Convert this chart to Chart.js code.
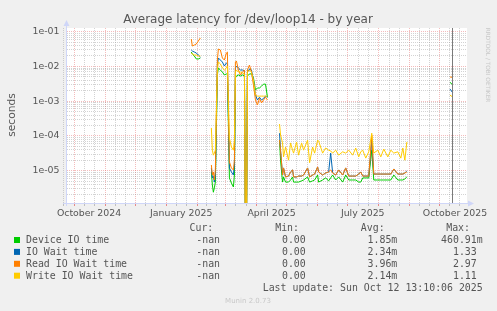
<!DOCTYPE html>
<html>
<head>
<meta charset="utf-8">
<script src="https://cdn.jsdelivr.net/npm/chart.js@4.4.0/dist/chart.umd.min.js"></script>
<style>
html, body { margin: 0; padding: 0; background: #f0f0f0; }
canvas { display: block; }
</style>
</head>
<body>
<canvas id="latency_graph" width="497" height="311"></canvas>
<script>
// x = days since 1 October 2024, null rows break the lines
var days = [
	117, 118, 120, 122, 124, 126,
	130,
	137, 138, 139, 140, 141,
	143, 144, 146, 148, 150, 152, 153,
	155, 157, 159, 160,
	161, 162, 164, 166, 168, 170,
	171, 172,
	173, 175, 177,
	179, 181, 183, 185, 187, 189, 191, 193,
	198,
	205, 206, 208, 209, 211,
	214, 216, 218, 219, 222, 224, 227, 229, 233, 235, 238, 240,
	243, 244, 248, 251, 254, 256, 258, 261, 264, 268, 271, 274,
	278, 281, 284, 286, 288, 291, 294, 297, 299, 303, 306, 309,
	313, 316, 319, 323, 326, 328, 330, 332,
	340,
	375, 378
];

var deviceTime = [
	0.026, 0.0228, 0.020, 0.0164, 0.0164, 0.0175,
	null,
	9.2e-6, 3.9e-6, 2.4e-6, 3.2e-6, 4.7e-6,
	0.0057, 0.009, 0.0079, 0.0069, 0.0057, 0.0061, 0.0061,
	6.2e-6, 4.4e-6, 3.4e-6, 7.5e-6,
	0.0047, 0.0053, 0.0057, 0.0053, 0.0057, 0.0053,
	1e-7, 1e-7,
	0.0053, 0.0061, 0.0061,
	0.0047, 0.0021, 0.0024, 0.0024, 0.0027, 0.0031, 0.0031, 0.0013,
	null,
	7.6e-5, 2.0e-5, 4.7e-6, 6.6e-6, 4.7e-6,
	4.7e-6, 5.4e-6, 6.6e-6, 4.7e-6, 4.7e-6, 4.7e-6, 5.1e-6, 5.4e-6, 6.6e-6, 4.7e-6, 5.1e-6, 5.4e-6,
	7.5e-6, 4.7e-6, 5.4e-6, 6.2e-6, 5.1e-6, 6.2e-6, 7.5e-6, 5.4e-6, 6.6e-6, 4.7e-6, 7.5e-6, 5.4e-6,
	5.4e-6, 5.4e-6, 4.7e-6, 4.7e-6, 6.2e-6, 6.2e-6, 6.2e-6, 3.9e-5, 5.4e-6, 5.4e-6, 5.4e-6, 5.4e-6,
	5.4e-6, 5.4e-6, 7.5e-6, 5.4e-6, 5.4e-6, 5.4e-6, 5.8e-6, 6.6e-6,
	null,
	0.0035, 0.0029
];

var ioWait = [
	0.0297, 0.0278, 0.026, 0.0244, 0.0213, 0.0187,
	null,
	1.2e-5, 6.2e-6, 7.0e-6, 4.7e-6, 7.5e-6,
	0.011, 0.0175, 0.0153, 0.0134, 0.0103, 0.0126, 0.0118,
	1.2e-5, 9.2e-6, 7.5e-6, 1.46e-5,
	0.009, 0.0103, 0.009, 0.0079, 0.0079, 0.0074,
	1e-7, 1e-7,
	0.0069, 0.0084, 0.0079,
	0.0041, 0.0015, 0.00108, 0.0013, 0.00108, 0.0012, 0.0014, 0.0013,
	null,
	1.2e-4, 3.9e-5, 7.5e-6, 1.2e-5, 6.6e-6,
	7.0e-6, 9.2e-6, 1.05e-5, 6.6e-6, 6.6e-6, 7.0e-6, 7.0e-6, 7.5e-6, 1.2e-5, 6.6e-6, 7.5e-6, 8.0e-6,
	1.28e-5, 9.2e-6, 7.5e-6, 8.6e-6, 9.2e-6, 3.2e-5, 8.6e-6, 7.5e-6, 1.05e-5, 7.5e-6, 1.2e-5, 7.0e-6,
	7.0e-6, 7.0e-6, 8.0e-6, 9.2e-6, 7.0e-6, 7.0e-6, 7.0e-6, 7.6e-5, 8.0e-6, 8.0e-6, 8.0e-6, 8.0e-6,
	8.0e-6, 8.0e-6, 1.12e-5, 8.0e-6, 8.0e-6, 8.0e-6, 8.6e-6, 9.8e-6,
	null,
	0.00224, 0.00172
];

var readWait = [
	0.0616, 0.0387, 0.0414, 0.0442, 0.054, 0.066,
	null,
	1.46e-5, 7.5e-6, 9.2e-6, 5.4e-6, 1.05e-5,
	0.0153, 0.0318, 0.0297, 0.0175, 0.0153, 0.0244, 0.026,
	1.8e-5, 1.2e-5, 1.05e-5, 2.0e-5,
	0.0134, 0.0144, 0.0079, 0.0057, 0.0069, 0.0079,
	1e-7, 1e-7,
	0.0079, 0.011, 0.0069,
	0.0029, 0.00108, 0.00078, 0.0012, 0.00089, 0.00108, 0.0013, 0.00108,
	null,
	7.6e-5, 3.9e-5, 7.5e-6, 1.2e-5, 6.6e-6,
	7.0e-6, 9.2e-6, 1.05e-5, 6.6e-6, 6.6e-6, 7.0e-6, 7.0e-6, 7.5e-6, 1.2e-5, 6.6e-6, 7.5e-6, 8.0e-6,
	1.28e-5, 9.2e-6, 7.5e-6, 8.6e-6, 9.2e-6, 1.05e-5, 8.6e-6, 7.5e-6, 1.05e-5, 7.5e-6, 1.2e-5, 7.0e-6,
	7.0e-6, 7.0e-6, 8.0e-6, 9.2e-6, 7.0e-6, 7.0e-6, 7.0e-6, 1.06e-4, 8.0e-6, 8.0e-6, 8.0e-6, 8.0e-6,
	8.0e-6, 8.0e-6, 1.12e-5, 8.0e-6, 8.0e-6, 8.0e-6, 8.6e-6, 9.2e-6,
	null,
	0.005, 0.0048
];

var writeWait = [
	0.0244, 0.0228, 0.0213, 0.0213, 0.020, 0.020,
	null,
	1.7e-4, 3.9e-5, 2.8e-5, 3.2e-5, 3.9e-5,
	0.0079, 0.0134, 0.0118, 0.009, 0.0079, 0.009, 0.0103,
	8.7e-5, 4.8e-5, 3.9e-5, 7.6e-5,
	0.0069, 0.0079, 0.0069, 0.0069, 0.0065, 0.0061,
	1e-7, 1e-7,
	0.0069, 0.0079, 0.0069,
	0.0041, 0.0015, 0.0014, 0.0014, 0.0014, 0.0014, 0.0014, 0.0014,
	null,
	2.2e-4, 1.06e-4, 6.3e-5, 2.5e-5, 4.8e-5,
	2.0e-5, 6.3e-5, 3.9e-5, 3.2e-5, 6.7e-5, 2.8e-5, 6.3e-5, 3.9e-5, 7.6e-5, 1.7e-5, 4.8e-5, 3.2e-5,
	7.6e-5, 7.1e-5, 3.2e-5, 4.5e-5, 3.9e-5, 3.7e-5, 3.2e-5, 3.9e-5, 2.8e-5, 3.5e-5, 3.2e-5, 3.9e-5,
	2.8e-5, 4.5e-5, 2.5e-5, 3.5e-5, 3.9e-5, 2.3e-5, 3.5e-5, 1.2e-4, 3.2e-5, 3.9e-5, 2.5e-5, 4.2e-5,
	2.5e-5, 3.9e-5, 3.2e-5, 3.5e-5, 2.3e-5, 4.5e-5, 2.0e-5, 6.7e-5,
	null,
	0.0015, 0.0013
];

var seriesNames = ["Device IO time", "IO Wait time", "Read IO Wait time", "Write IO Wait time"];
var seriesColors = ["#00cc00", "#0066b3", "#ff8000", "#ffcc00"];
var curValues = ["-nan", "-nan", "-nan", "-nan"];
var minValues = ["0.00", "0.00", "0.00", "0.00"];
var avgValues = ["1.85m", "2.34m", "3.96m", "2.14m"];
var maxValues = ["460.91m", "1.33", "2.97", "1.11"];

var monthStarts = [0, 31, 61, 92, 123, 151, 182, 212, 243, 273, 304, 335, 365];
var labelDays = [15, 107, 197, 288, 380];
var labelTexts = ["October 2024", "January 2025", "April 2025", "July 2025", "October 2025"];
var yTickValues = [1e-5, 1e-4, 1e-3, 1e-2, 1e-1];
var yTickLabels = ["1e-05", "1e-04", "1e-03", "1e-02", "1e-01"];
var nowDay = 377;

var TEXT = "#555555";
var SANS = '"DejaVu Sans", sans-serif';
var MONO = '"DejaVu Sans Mono", monospace';
var MAJOR_GRID = "rgba(228,95,95,0.42)";
var MINOR_GRID = "rgba(140,140,140,0.38)";

function points(values) {
	return days.map(function (d, i) { return { x: d, y: values[i] }; });
}

var munin_decor = {
	id: "munin_decor",
	beforeDraw: function (chart) {
		var c = chart.ctx, a = chart.chartArea;
		c.save();
		c.fillStyle = "#f0f0f0";
		c.fillRect(0, 0, chart.width, chart.height);
		c.fillStyle = "#ffffff";
		c.fillRect(a.left, a.top, a.right - a.left, a.bottom - a.top);
		c.restore();
	},
	afterDatasetsDraw: function (chart) {
		var c = chart.ctx, a = chart.chartArea;
		var px = Math.round(chart.scales.x.getPixelForValue(nowDay)) + 0.5;
		c.save();
		c.strokeStyle = "#7a7a7a";
		c.lineWidth = 1;
		c.beginPath();
		c.moveTo(px, a.top);
		c.lineTo(px, a.bottom);
		c.stroke();
		c.restore();
	},
	afterDraw: function (chart) {
		var c = chart.ctx, a = chart.chartArea;
		c.save();
		// axes with arrows
		c.strokeStyle = "#cfd6f8";
		c.fillStyle = "#cfd6f8";
		c.lineWidth = 1;
		c.beginPath();
		c.moveTo(a.left - 0.5, a.bottom + 3);
		c.lineTo(a.left - 0.5, a.top - 3);
		c.moveTo(a.left - 4, a.bottom + 0.5);
		c.lineTo(a.right + 2, a.bottom + 0.5);
		c.stroke();
		c.beginPath();
		c.moveTo(a.left - 3.5, a.top - 2);
		c.lineTo(a.left + 2.5, a.top - 2);
		c.lineTo(a.left - 0.5, a.top - 8);
		c.closePath();
		c.fill();
		c.beginPath();
		c.moveTo(a.right + 1, a.bottom - 2.5);
		c.lineTo(a.right + 1, a.bottom + 3.5);
		c.lineTo(a.right + 7, a.bottom + 0.5);
		c.closePath();
		c.fill();

		// title
		c.fillStyle = TEXT;
		c.textBaseline = "alphabetic";
		c.textAlign = "center";
		c.font = "12px " + SANS;
		c.fillText("Average latency for /dev/loop14 - by year", 248, 23.3);

		// unit label
		c.save();
		c.translate(14.5, 115);
		c.rotate(-Math.PI / 2);
		c.font = "10.7px " + SANS;
		c.fillText("seconds", 0, 0);
		c.restore();

		// watermark
		c.save();
		c.translate(486.3, 65);
		c.rotate(Math.PI / 2);
		c.fillStyle = "#c8c8c8";
		c.font = "5.8px " + SANS;
		c.fillText("RRDTOOL / TOBI OETIKER", 0, 0);
		c.restore();

		// legend table
		var cw = 5.96;
		var colRight = [226, 311.7, 397.3, 482.7];
		var headers = ["Cur:", "Min:", "Avg:", "Max:"];
		c.font = "9.9px " + MONO;
		c.textAlign = "right";
		headers.forEach(function (h, k) {
			c.fillText(h, colRight[k] - 12.7, 231.4);
		});
		var rowBase = [243.4, 255.3, 267.2, 279.1];
		seriesNames.forEach(function (name, i) {
			var yb = rowBase[i];
			c.fillStyle = seriesColors[i];
			c.fillRect(14, yb - 6.4, 6, 6);
			c.fillStyle = TEXT;
			c.textAlign = "left";
			c.fillText(name, 26, yb);
			c.textAlign = "right";
			[curValues[i], minValues[i], avgValues[i], maxValues[i]].forEach(function (v, k) {
				var off = /m$/.test(v) ? 0 : cw;
				c.fillText(v, colRight[k] - off, yb);
			});
		});
		c.fillText("Last update: Sun Oct 12 13:10:06 2025", 482.7, 291);

		c.textAlign = "center";
		c.fillStyle = "#c8c8c8";
		c.font = "7px " + SANS;
		c.fillText("Munin 2.0.73", 248, 302.5);
		c.restore();
	}
};

var ctx = document.getElementById("latency_graph").getContext("2d");

var datasets = [deviceTime, ioWait, readWait, writeWait].map(function (values, i) {
	return {
		label: seriesNames[i],
		data: points(values),
		borderColor: seriesColors[i],
		backgroundColor: seriesColors[i],
		borderWidth: 1,
		pointRadius: 0,
		tension: 0,
		spanGaps: false,
		clip: 0,
		order: 4 - i
	};
});

var chart = new Chart(ctx, {
	type: "line",
	data: { datasets: datasets },
	options: {
		responsive: false,
		animation: false,
		events: [],
		layout: { padding: { left: 0, right: 30, top: 28, bottom: 0 } },
		scales: {
			x: {
				type: "linear",
				min: -7,
				max: 392,
				afterFit: function (s) { s.height = 108; },
				afterBuildTicks: function (s) {
					var t = [];
					monthStarts.forEach(function (m, k) {
						t.push({ value: m, kind: "month" });
						if (k < monthStarts.length - 1) {
							var len = monthStarts[k + 1] - m;
							t.push({ value: m + len / 3, kind: "minor" });
							t.push({ value: m + 2 * len / 3, kind: "minor" });
						}
					});
					t.push({ value: -30 + 20, kind: "minor" });
					t.push({ value: 365 + 10, kind: "minor" });
					t.push({ value: 365 + 20, kind: "minor" });
					labelDays.forEach(function (d) { t.push({ value: d, kind: "lbl" }); });
					s.ticks = t;
				},
				grid: {
					color: function (c) {
						if (!c.tick) return "rgba(0,0,0,0)";
						if (c.tick.kind === "month") return MAJOR_GRID;
						if (c.tick.kind === "minor") return MINOR_GRID;
						return "rgba(0,0,0,0)";
					},
					tickColor: function (c) {
						if (!c.tick) return "rgba(0,0,0,0)";
						if (c.tick.kind === "month") return "rgba(225,80,80,0.65)";
						if (c.tick.kind === "minor") return "rgba(150,150,150,0.55)";
						return "rgba(0,0,0,0)";
					},
					lineWidth: 1,
					drawTicks: true,
					tickLength: 3
				},
				border: { display: false, dash: [1, 1] },
				ticks: {
					autoSkip: false,
					maxRotation: 0,
					padding: 2,
					color: TEXT,
					font: { family: SANS, size: 9.4 },
					callback: function (v, i, ticks) {
						if (ticks[i].kind !== "lbl") return "";
						return labelTexts[labelDays.indexOf(v)];
					}
				}
			},
			y: {
				type: "logarithmic",
				min: 1.175e-6,
				max: 0.1278,
				afterFit: function (s) { s.width = 67; },
				afterBuildTicks: function (s) {
					var t = [];
					for (var n = -6; n <= -1; n++) {
						for (var m = 1; m <= 9; m++) {
							var v = m * Math.pow(10, n);
							if (v >= s.min && v <= s.max) t.push({ value: v, major: m === 1 });
						}
					}
					s.ticks = t;
				},
				grid: {
					color: function (c) {
						if (!c.tick) return "rgba(0,0,0,0)";
						return c.tick.major ? MAJOR_GRID : MINOR_GRID;
					},
					lineWidth: 1,
					drawTicks: false
				},
				border: { display: false, dash: [1, 1] },
				ticks: {
					autoSkip: false,
					padding: 7.5,
					color: TEXT,
					font: { family: SANS, size: 9.4 },
					callback: function (v) {
						for (var k = 0; k < yTickValues.length; k++) {
							if (Math.abs(v / yTickValues[k] - 1) < 1e-6) return yTickLabels[k];
						}
						return "";
					}
				}
			}
		},
		plugins: {
			legend: { display: false },
			title: { display: false },
			tooltip: { enabled: false }
		}
	},
	plugins: [munin_decor]
});
</script>
</body>
</html>
